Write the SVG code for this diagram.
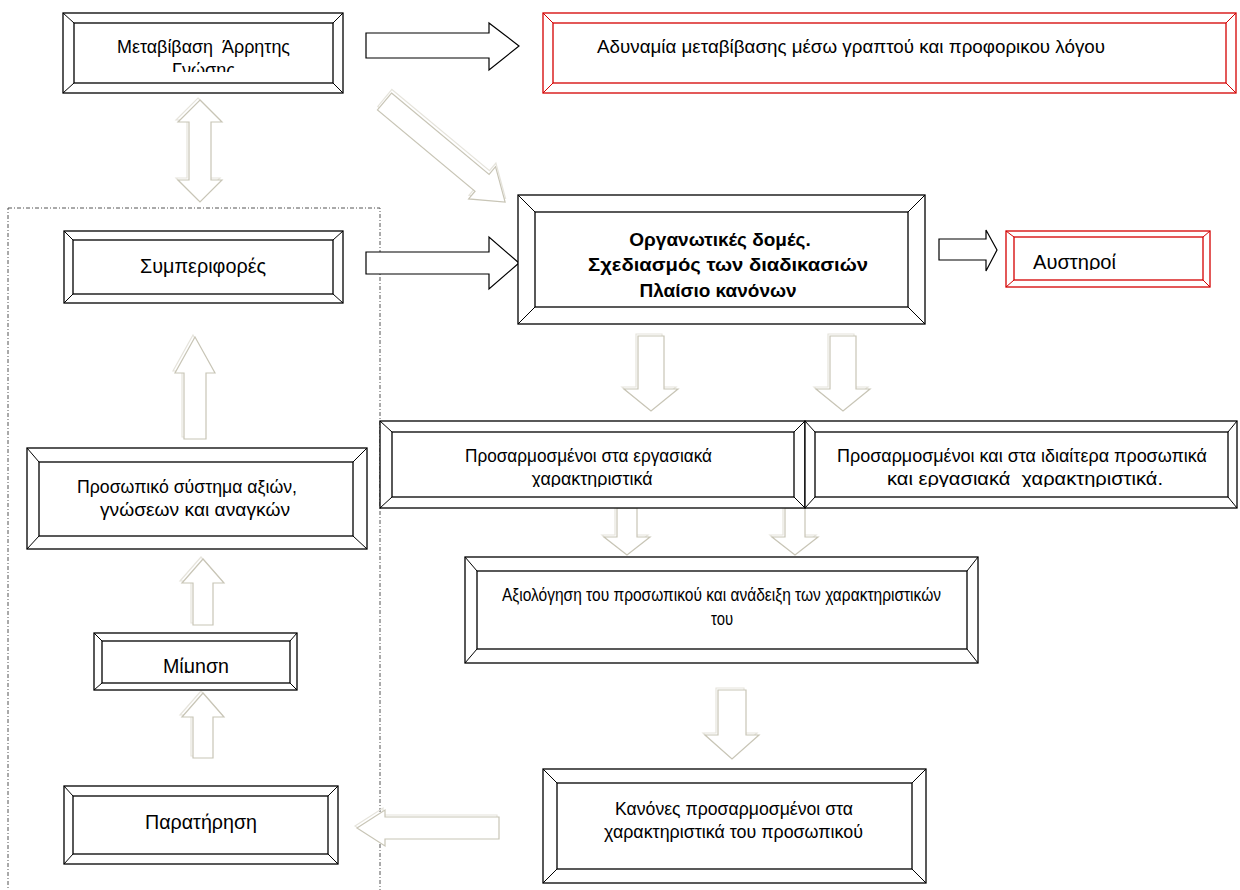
<svg xmlns="http://www.w3.org/2000/svg" width="1240" height="890" viewBox="0 0 1240 890">
<style>
.o{fill:#fff;stroke:#000;stroke-width:1.3}
.i{fill:none;stroke:#000;stroke-width:1.3}
.l{stroke:#000;stroke-width:1}
.ro{fill:#fff;stroke:#d40000;stroke-width:1.3}
.ri{fill:none;stroke:#d40000;stroke-width:1.3}
.rl{stroke:#d40000;stroke-width:1}
.t{font-family:"Liberation Sans",Arial,sans-serif;font-size:18.5px;fill:#000;white-space:pre}
.m{text-anchor:middle}
.b{font-weight:bold;font-size:19px}
.big{font-size:20px}
.ba{fill:#fff;stroke:#000;stroke-width:1.2}
.ga{fill:#fff;stroke:#c8c5b6;stroke-width:1.2}
.gb{fill:none;stroke:#e6e4dc;stroke-width:1.2}
.dash{fill:none;stroke:#555;stroke-width:1;stroke-dasharray:4 2 1 2}
</style>
<defs>
<clipPath id="c1"><rect x="63" y="13" width="280" height="59"/></clipPath>
<clipPath id="c3"><rect x="518" y="195" width="407" height="103"/></clipPath>
<clipPath id="c4"><rect x="1006" y="231" width="204" height="39"/></clipPath>
<clipPath id="c7"><rect x="380" y="421" width="425" height="66"/></clipPath>
<clipPath id="c8"><rect x="805" y="421" width="432" height="66"/></clipPath>
<clipPath id="c10"><rect x="94" y="633" width="203" height="40"/></clipPath>
</defs>

<rect class="dash" x="8" y="208" width="372" height="700"/>

<g id="connectors">
<polygon class="ba" points="366,33 489,33 489,23 519,46 489,70 489,58 366,58"/>
<polygon class="ba" points="366,252 489,252 489,237 519,263 489,289 489,274 366,274"/>
<polygon class="ba" points="939,239 986,239 986,230 997,250 986,271 986,260 939,260"/>
<g transform="translate(384.5,101.5) rotate(39.8)">
<polygon class="gb" transform="translate(-2,-3)" points="0,-11 127,-11 127,-21 157,0 127,21 127,11 0,11"/>
<polygon class="ga" points="0,-11 127,-11 127,-21 157,0 127,21 127,11 0,11"/>
</g>
<polygon class="gb" transform="translate(-2,-2)" points="200,100 222,122 211,122 211,180 222,180 200,202 178,180 189,180 189,122 178,122"/>
<polygon class="ga" points="200,100 222,122 211,122 211,180 222,180 200,202 178,180 189,180 189,122 178,122"/>
<polygon class="gb" transform="translate(-2,-2)" points="195,337 215,373 206,373 206,439 184,439 184,373 175,373"/>
<polygon class="ga" points="195,337 215,373 206,373 206,439 184,439 184,373 175,373"/>
<polygon class="gb" transform="translate(-2,-2)" points="203,559 224,583 213,583 213,625 193,625 193,583 182,583"/>
<polygon class="ga" points="203,559 224,583 213,583 213,625 193,625 193,583 182,583"/>
<polygon class="gb" transform="translate(-2,-2)" points="203,693 224,717 213,717 213,758 193,758 193,717 182,717"/>
<polygon class="ga" points="203,693 224,717 213,717 213,758 193,758 193,717 182,717"/>
<polygon class="gb" transform="translate(-2,-2)" points="638,336 664,336 664,389 678,389 651,411 624,389 638,389"/>
<polygon class="ga" points="638,336 664,336 664,389 678,389 651,411 624,389 638,389"/>
<polygon class="gb" transform="translate(-2,-2)" points="830,336 856,336 856,389 870,389 843,411 816,389 830,389"/>
<polygon class="ga" points="830,336 856,336 856,389 870,389 843,411 816,389 830,389"/>
<polygon class="gb" transform="translate(-2,-2)" points="617,508 637,508 637,537 650,537 627,555 604,537 617,537"/>
<polygon class="ga" points="617,508 637,508 637,537 650,537 627,555 604,537 617,537"/>
<polygon class="gb" transform="translate(-2,-2)" points="785,508 805,508 805,537 818,537 795,555 772,537 785,537"/>
<polygon class="ga" points="785,508 805,508 805,537 818,537 795,555 772,537 785,537"/>
<polygon class="gb" transform="translate(-2,-2)" points="718,690 746,690 746,735 759,735 732,759 705,735 718,735"/>
<polygon class="ga" points="718,690 746,690 746,735 759,735 732,759 705,735 718,735"/>
<polygon class="gb" transform="translate(-2,-2)" points="357,828 385,810 385,817 499,817 499,839 385,839 385,846"/>
<polygon class="ga" points="357,828 385,810 385,817 499,817 499,839 385,839 385,846"/>
</g>

<g id="n1">
<rect class="o" x="63" y="13" width="280" height="80"/><rect class="i" x="74" y="23" width="259" height="60"/>
<path class="l" d="M63,13L74,23M343,13L333,23M63,93L74,83M343,93L333,83"/>
<g clip-path="url(#c1)"><text class="t m" x="203.5" y="53" textLength="173" lengthAdjust="spacingAndGlyphs">Μεταβίβαση  Άρρητης</text><text class="t m" x="203.5" y="76" textLength="63" lengthAdjust="spacingAndGlyphs">Γνώσης</text></g>
</g>

<g id="n2">
<rect class="ro" x="543" y="13" width="693" height="80"/><rect class="ri" x="553" y="23" width="673" height="60"/>
<path class="rl" d="M543,13L553,23M1236,13L1226,23M543,93L553,83M1236,93L1226,83"/>
<text class="t" x="597" y="53" textLength="508" lengthAdjust="spacingAndGlyphs">Αδυναμία μεταβίβασης μέσω γραπτού και προφορικου λόγου</text>
</g>

<g id="n3">
<rect class="o" x="518" y="195" width="407" height="129"/><rect class="i" x="535" y="212" width="373" height="95"/>
<path class="l" d="M518,195L535,212M925,195L908,212M518,324L535,307M925,324L908,307"/>
<g clip-path="url(#c3)"><text class="t m b" x="720" y="246">Οργανωτικές δομές.</text><text class="t m b" x="728" y="271" textLength="280" lengthAdjust="spacingAndGlyphs">Σχεδιασμός των διαδικασιών</text><text class="t m b" x="718" y="297">Πλαίσιο κανόνων</text></g>
</g>

<g id="n4">
<rect class="ro" x="1006" y="231" width="204" height="56"/><rect class="ri" x="1014" y="237" width="189" height="43"/>
<path class="rl" d="M1006,231L1014,237M1210,231L1203,237M1006,287L1014,280M1210,287L1203,280"/>
<g clip-path="url(#c4)"><text class="t big" x="1033" y="269" textLength="83" lengthAdjust="spacingAndGlyphs">Αυστηροί</text></g>
</g>

<g id="n5">
<rect class="o" x="64" y="231" width="279" height="72"/><rect class="i" x="73" y="240" width="260" height="54"/>
<path class="l" d="M64,231L73,240M343,231L333,240M64,303L73,294M343,303L333,294"/>
<text class="t m big" x="203" y="273" textLength="126" lengthAdjust="spacingAndGlyphs">Συμπεριφορές</text>
</g>

<g id="n6">
<rect class="o" x="27" y="448" width="340" height="101"/><rect class="i" x="39" y="462" width="314" height="74"/>
<path class="l" d="M27,448L39,462M367,448L353,462M27,549L39,536M367,549L353,536"/>
<text class="t m" x="187" y="493" textLength="220" lengthAdjust="spacingAndGlyphs">Προσωπικό σύστημα αξιών,</text><text class="t m" x="195" y="516" textLength="190" lengthAdjust="spacingAndGlyphs">γνώσεων και αναγκών</text>
</g>

<g id="n7">
<rect class="o" x="380" y="421" width="425" height="87"/><rect class="i" x="392" y="432" width="402" height="65"/>
<path class="l" d="M380,421L392,432M805,421L794,432M380,508L392,497M805,508L794,497"/>
<g clip-path="url(#c7)"><text class="t m" x="588.5" y="462" textLength="247" lengthAdjust="spacingAndGlyphs">Προσαρμοσμένοι στα εργασιακά</text><text class="t m" x="592" y="485" textLength="121" lengthAdjust="spacingAndGlyphs">χαρακτηριστικά</text></g>
</g>

<g id="n8">
<rect class="o" x="805" y="421" width="432" height="87"/><rect class="i" x="815" y="432" width="413" height="65"/>
<path class="l" d="M805,421L815,432M1237,421L1228,432M805,508L815,497M1237,508L1228,497"/>
<g clip-path="url(#c8)"><text class="t m" x="1022" y="462" textLength="370" lengthAdjust="spacingAndGlyphs">Προσαρμοσμένοι και στα ιδιαίτερα προσωπικά</text><text class="t m" x="1025" y="485" textLength="276" lengthAdjust="spacingAndGlyphs">και εργασιακά  χαρακτηριστικά.</text></g>
</g>

<g id="n9">
<rect class="o" x="465" y="557" width="513" height="106"/><rect class="i" x="477" y="571" width="490" height="78"/>
<path class="l" d="M465,557L477,571M978,557L967,571M465,663L477,649M978,663L967,649"/>
<text class="t m" x="721.5" y="601" textLength="439" lengthAdjust="spacingAndGlyphs">Αξιολόγηση του προσωπικού και ανάδειξη των χαρακτηριστικών</text><text class="t m" x="722" y="625" textLength="22" lengthAdjust="spacingAndGlyphs">του</text>
</g>

<g id="n10">
<rect class="o" x="94" y="633" width="203" height="57"/><rect class="i" x="102" y="641" width="188" height="42"/>
<path class="l" d="M94,633L102,641M297,633L290,641M94,690L102,683M297,690L290,683"/>
<g clip-path="url(#c10)"><text class="t m big" x="196" y="673" textLength="66" lengthAdjust="spacingAndGlyphs">Μίμηση</text></g>
</g>

<g id="n11">
<rect class="o" x="64" y="786" width="274" height="78"/><rect class="i" x="73" y="796" width="255" height="58"/>
<path class="l" d="M64,786L73,796M338,786L328,796M64,864L73,854M338,864L328,854"/>
<text class="t m big" x="201" y="829" textLength="112" lengthAdjust="spacingAndGlyphs">Παρατήρηση</text>
</g>

<g id="n12">
<rect class="o" x="543" y="769" width="383" height="114"/><rect class="i" x="557" y="783" width="355" height="86"/>
<path class="l" d="M543,769L557,783M926,769L912,783M543,883L557,869M926,883L912,869"/>
<text class="t m" x="734" y="815" textLength="238" lengthAdjust="spacingAndGlyphs">Κανόνες προσαρμοσμένοι στα</text><text class="t m" x="733.5" y="838" textLength="259" lengthAdjust="spacingAndGlyphs">χαρακτηριστικά του προσωπικού</text>
</g>
</svg>
